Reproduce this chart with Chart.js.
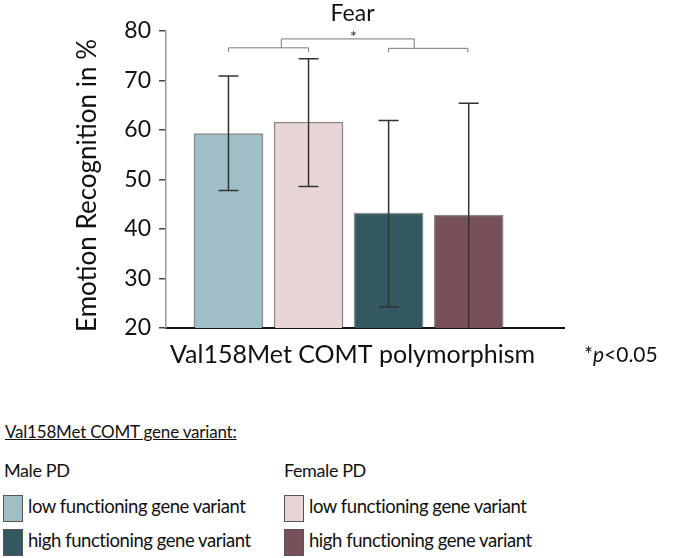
<!DOCTYPE html>
<html>
<head>
<meta charset="utf-8">
<script src="https://cdn.jsdelivr.net/npm/chart.js@4.4.1/dist/chart.umd.min.js"></script>
<style>
  body { margin: 0; background: #fff; }
  #wrap { position: relative; width: 689px; height: 558px; font-family: Lato, "Open Sans", sans-serif; color: #111; }
  #chart-box { position: absolute; left: 0; top: 0; width: 689px; height: 380px; }
  .leg { position: absolute; white-space: nowrap; line-height: 1; }
  .sw { position: absolute; width: 18px; height: 25px; border: 1.5px solid #555; }
</style>
</head>
<body>
<div id="wrap">
  <div id="chart-box"><canvas id="chart" width="689" height="380"></canvas></div>
  <div class="leg" style="left:5px; top:423px; font-size:17px; letter-spacing:-0.2px; text-decoration:underline;">Val158Met COMT gene variant:</div>
  <div class="leg" style="left:4px; top:461px; font-size:18px; letter-spacing:-0.4px;">Male PD</div>
  <div class="leg" style="left:284px; top:461px; font-size:18px; letter-spacing:-0.4px;">Female PD</div>
  <div id="legend-items"></div>
</div>
<script>
// Datos
const groups = ["Male PD low", "Female PD low", "Male PD high", "Female PD high"];
const xPos = [1, 2, 3, 4];
const means = [59.3, 61.6, 43.2, 42.8];
const errLow = [47.8, 48.6, 24.3, 20];
const errHigh = [70.9, 74.4, 61.9, 65.4];
const barColors = ["#A0BEC5", "#E8D5D6", "#34585F", "#775059"];
const yTicks = [20, 30, 40, 50, 60, 70, 80];
const legendLabels = ["low functioning gene variant", "high functioning gene variant"];

// Corchetes de significancia: [x1, x2, y, yPie]
const brackets = [
    [1, 2, 76.6, 75.8],
    [3.0, 3.99, 76.5, 75.7],
    [1.66, 3.32, 78.4, 76.6],
];

// Leyenda HTML
const legendBox = document.getElementById("legend-items");
const legendOrder = [[0, 2], [1, 3]]; // columnas: masculino, femenino
legendOrder.forEach((col, c) => {
    col.forEach((idx, r) => {
        const left = c === 0 ? 3 : 284;
        const top = r === 0 ? 495 : 529;
        const sw = document.createElement("div");
        sw.className = "sw";
        sw.style.left = left + "px";
        sw.style.top = top + "px";
        sw.style.background = barColors[idx];
        legendBox.appendChild(sw);
        const t = document.createElement("div");
        t.className = "leg";
        t.style.left = (left + 25) + "px";
        t.style.top = (top + 2) + "px";
        t.style.fontSize = "18.5px";
        t.style.letterSpacing = "-0.45px";
        t.textContent = legendLabels[r];
        legendBox.appendChild(t);
    });
});

// Plugin para barras de error, corchetes y textos
const extras = {
    id: "extras",
    afterDatasetsDraw(chart) {
        const ctx = chart.ctx;
        const x = chart.scales.x;
        const y = chart.scales.y;
        const area = chart.chartArea;
        ctx.save();

        // Barras de error
        ctx.strokeStyle = "#333";
        ctx.lineWidth = 1.5;
        xPos.forEach((xv, i) => {
            const px = x.getPixelForValue(xv);
            const top = y.getPixelForValue(errHigh[i]);
            const bot = Math.min(y.getPixelForValue(errLow[i]), area.bottom);
            ctx.beginPath();
            ctx.moveTo(px, top);
            ctx.lineTo(px, bot);
            ctx.moveTo(px - 10, top);
            ctx.lineTo(px + 10, top);
            if (errLow[i] > y.min) {
                ctx.moveTo(px - 10, bot);
                ctx.lineTo(px + 10, bot);
            }
            ctx.stroke();
        });

        // Corchetes
        ctx.strokeStyle = "#777";
        ctx.lineWidth = 1;
        brackets.forEach(b => {
            const x1 = x.getPixelForValue(b[0]);
            const x2 = x.getPixelForValue(b[1]);
            const yy = y.getPixelForValue(b[2]);
            const yp = y.getPixelForValue(b[3]);
            ctx.beginPath();
            ctx.moveTo(x1, yp);
            ctx.lineTo(x1, yy);
            ctx.lineTo(x2, yy);
            ctx.lineTo(x2, yp);
            ctx.stroke();
        });

        ctx.fillStyle = "#111";
        ctx.textAlign = "center";
        ctx.textBaseline = "alphabetic";
        ctx.font = "16px Lato";
        ctx.fillText("*", x.getPixelForValue(2.56), y.getPixelForValue(78.4) + 3);

        ctx.font = "23px Lato";
        ctx.fillText("Fear", x.getPixelForValue(2.55), 21);

        ctx.font = "25px Lato";
        ctx.fillText("Val158Met COMT polymorphism", x.getPixelForValue(2.55), 363);

        ctx.textAlign = "left";
        ctx.font = "21px Lato";
        ctx.fillText("*", 584, 362);
        const w1 = ctx.measureText("*").width;
        ctx.font = "italic 21px Lato";
        ctx.fillText("p", 584 + w1, 362);
        const w2 = ctx.measureText("p").width;
        ctx.font = "21px Lato";
        ctx.fillText("<0.05", 584 + w1 + w2, 362);

        // Título eje Y
        ctx.translate(96, (area.top + area.bottom) / 2 + 6);
        ctx.rotate(-Math.PI / 2);
        ctx.textAlign = "center";
        ctx.font = "26px Lato";
        ctx.fillText("Emotion Recognition in %", 0, 0);
        ctx.restore();
    }
};

const ctx = document.getElementById("chart").getContext("2d");
new Chart(ctx, {
    type: "bar",
    data: {
        labels: groups,
        datasets: [{
            data: xPos.map((xv, i) => ({ x: xv, y: means[i] })),
            backgroundColor: barColors,
            borderColor: "rgba(60,60,60,0.6)",
            borderWidth: 1.5,
            barThickness: 69,
        }],
    },
    options: {
        responsive: false,
        animation: false,
        layout: { padding: { left: 0, right: 125, top: 31, bottom: 0 } },
        plugins: {
            legend: { display: false },
            tooltip: { enabled: false },
        },
        scales: {
            x: {
                type: "linear",
                offset: false,
                min: 0.22,
                max: 5.19,
                ticks: { display: false },
                grid: { display: false },
                border: { color: "#111", width: 2 },
                afterFit: s => { s.height = 52; },
            },
            y: {
                min: 20,
                max: 80,
                afterBuildTicks: s => { s.ticks = yTicks.map(v => ({ value: v })); },
                ticks: { color: "#111", font: { family: "Lato", size: 23 }, padding: 8 },
                grid: { drawOnChartArea: false, drawTicks: true, tickLength: 7, color: "#444", lineWidth: 1.5 },
                border: { color: "#999", width: 1.5 },
                afterFit: s => { s.width = 166; },
            },
        },
    },
    plugins: [extras],
});
</script>
</body>
</html>
